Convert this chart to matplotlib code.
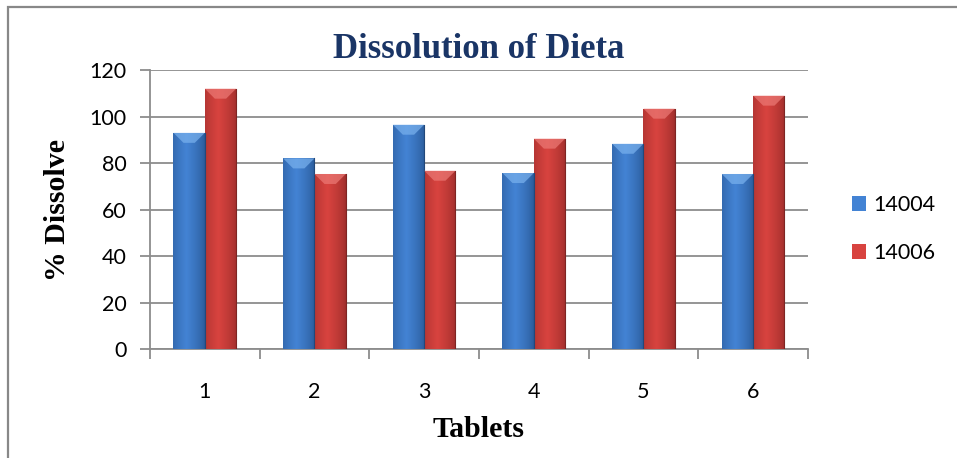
import numpy as np
import matplotlib.pyplot as plt
from matplotlib.patches import Polygon, Rectangle
from matplotlib.colors import to_rgb

# tablet numbers and % dissolved per batch
tablets = ['1', '2', '3', '4', '5', '6']
batch_14004 = [93, 82, 96.5, 75.7, 88.3, 75.3]
batch_14006 = [112, 75.3, 76.7, 90.5, 103.4, 109]
series_names = ['14004', '14006']

# (edge, middle, bevel) shades for each series
blue = ('#2a5a98', '#4383d4', '#7ab2ee')
red = ('#9e2e2c', '#d8433f', '#ec7a76')

fig = plt.figure(figsize=(9.57, 4.58), dpi=100)
ax = fig.add_axes([0.1567, 0.238, 0.6876, 0.609])

x = np.arange(1, len(tablets) + 1)
w = 1 / 3.5  # excel style 150% gap


def shade_bar(ax, patch, cols):
    # horizontal gradient inside the bar + light bevel on top
    x0, y0 = patch.get_x(), patch.get_y()
    bw, bh = patch.get_width(), patch.get_height()
    edge, mid, top = [np.array(to_rgb(c)) for c in cols]
    t = np.linspace(0, 1, 64)
    prof = np.clip(1 - np.abs(t - 0.42) / 0.58, 0, 1) ** 0.7
    row = edge[None, :] * (1 - prof[:, None]) + mid[None, :] * prof[:, None]
    img = ax.imshow(row[None, :, :], extent=[x0, x0 + bw, y0, y0 + bh],
                    aspect='auto', zorder=3, interpolation='bilinear')
    img.set_clip_path(patch)
    bev_h = 4.3
    inset = bw * 0.32
    ax.add_patch(Polygon([[x0, y0 + bh], [x0 + bw, y0 + bh],
                          [x0 + bw - inset, y0 + bh - bev_h],
                          [x0 + inset, y0 + bh - bev_h]],
                         closed=True, facecolor=top, edgecolor='none',
                         alpha=0.7, zorder=4))
    # thin dark outline on the right side
    ax.plot([x0 + bw, x0 + bw], [y0, y0 + bh], color=edge * 0.8, lw=0.8, zorder=4)


bars1 = ax.bar(x - w / 2, batch_14004, w, color=blue[1], label=series_names[0], zorder=3)
bars2 = ax.bar(x + w / 2, batch_14006, w, color=red[1], label=series_names[1], zorder=3)
for p in bars1:
    shade_bar(ax, p, blue)
for p in bars2:
    shade_bar(ax, p, red)

ax.set_xlim(0.5, len(tablets) + 0.5)
ax.set_ylim(0, 120)
ax.set_yticks(np.arange(0, 121, 20))
ax.grid(axis='y', color='#8c8c8c', lw=1.3, zorder=0)
ax.set_axisbelow(True)

for s in ['top', 'right']:
    ax.spines[s].set_visible(False)
for s in ['left', 'bottom']:
    ax.spines[s].set_color('#8c8c8c')
    ax.spines[s].set_linewidth(1.3)

# boundaries get tick marks, centres get the labels
ax.set_xticks(np.arange(0.5, len(tablets) + 1, 1))
ax.set_xticklabels([])
ax.set_xticks(x, minor=True)
ax.set_xticklabels(tablets, minor=True, fontsize=15.5, family='Lato')
ax.tick_params(axis='x', which='major', length=7, width=1.3, color='#8c8c8c', direction='out')
ax.tick_params(axis='x', which='minor', length=0, pad=24)
ax.tick_params(axis='y', length=7, width=1.3, color='#8c8c8c', pad=10, labelsize=15.5)
for lab in ax.get_yticklabels():
    lab.set_family('Lato')

ax.set_title('Dissolution of Dieta', fontsize=25, fontweight='bold',
             family='Liberation Serif', color='#1a3566', pad=9)
ax.set_xlabel('Tablets', fontsize=21.5, fontweight='bold', family='Liberation Serif')
ax.set_ylabel('% Dissolve', fontsize=21.5, fontweight='bold', family='Liberation Serif')
ax.xaxis.set_label_coords(0.5, -0.24)
ax.yaxis.set_label_coords(-0.12, 0.5)

leg = fig.legend(loc='center left', bbox_to_anchor=(0.87, 0.5), frameon=False,
                 prop={'family': 'Lato', 'size': 15.5}, handlelength=0.65,
                 handleheight=0.65, handletextpad=0.35, labelspacing=1.3)

# outer chart border (left and top edges)
fig.patches.append(Rectangle((8 / 957, -0.1), 2.0, 1.1 - 7 / 458, transform=fig.transFigure,
                             fill=False, edgecolor='#888888', lw=1.6))

fig.savefig('out.png', dpi=100)
